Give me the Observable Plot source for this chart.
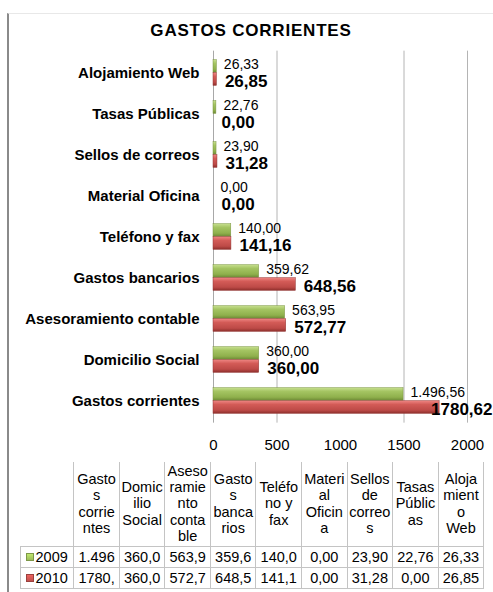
<!DOCTYPE html>
<html>
<head>
<meta charset="utf-8">
<script src="https://cdn.jsdelivr.net/npm/d3@7"></script>
<script src="https://cdn.jsdelivr.net/npm/@observablehq/plot@0.6"></script>
<style>
  html, body { margin: 0; padding: 0; background: #ffffff; }
  #wrap { position: relative; width: 493px; height: 592px; overflow: hidden; font-family: "Liberation Sans", Arial, sans-serif; color: #000; }
  #frame { position: absolute; left: 6.5px; top: 12.5px; width: 500px; height: 600px; border-left: 2px solid #8a8a8a; border-top: 1px solid #e8e8e8; }
  #title { position: absolute; left: 0; top: 22px; width: 502px; text-align: center; font-size: 17px; line-height: 17px; font-weight: bold; letter-spacing: 0.8px; }
  #chart { position: absolute; left: 0; top: 0; }
  #tbl { position: absolute; left: 19.5px; top: 461.5px; border-collapse: collapse; table-layout: fixed; }
  #tbl td { border: 1px solid #c4c4c4; padding: 0; text-align: center; vertical-align: middle; overflow: hidden; white-space: nowrap; }
  #tbl tr.head td { height: 84px; font-size: 14.5px; line-height: 16.3px; border-top: none; }
  #tbl tr.head td.corner { border: none; border-bottom: 1px solid #c4c4c4; }
  #tbl tr.val td { height: 20px; font-size: 14.5px; line-height: 20px; }
  .sq { display: inline-block; width: 6px; height: 6px; margin-right: 2px; vertical-align: 1px; }
</style>
</head>
<body>
<div id="wrap">
  <div id="frame"></div>
  <div id="chart"></div>
  <div id="title"></div>
  <table id="tbl"></table>
</div>
<script>
// ---- data (table order; chart shows it bottom-to-top) ----
const chartTitle = "GASTOS CORRIENTES";
const categories = ["Gastos corrientes", "Domicilio Social", "Asesoramiento contable", "Gastos bancarios", "Teléfono y fax", "Material Oficina", "Sellos de correos", "Tasas Públicas", "Alojamiento Web"];
const values2009 = [1496.56, 360.00, 563.95, 359.62, 140.00, 0.00, 23.90, 22.76, 26.33];
const values2010 = [1780.62, 360.00, 572.77, 648.56, 141.16, 0.00, 31.28, 0.00, 26.85];
const years = ["2009", "2010"];
const xTicks = [0, 500, 1000, 1500, 2000];
const gridValues = [500, 1500, 2000];
const headerLines = [
  ["Gasto", "s", "corrie", "ntes"],
  ["Domic", "ilio", "Social"],
  ["Aseso", "ramie", "nto", "conta", "ble"],
  ["Gasto", "s", "banca", "rios"],
  ["Teléfo", "no y", "fax"],
  ["Materi", "al", "Oficin", "a"],
  ["Sellos", "de", "correo", "s"],
  ["Tasas", "Públic", "as"],
  ["Aloja", "mient", "o", "Web"]
];

const colors = { "2009": "#9bbb59", "2010": "#c0504d" };

const loc = d3.formatLocale({ decimal: ",", thousands: ".", grouping: [3], currency: ["", "€"] });
const fmt2009 = loc.format(",.2f");
const fmt2010 = loc.format(".2f");

const d2009 = categories.map((c, i) => ({ cat: c, v: values2009[i], label: fmt2009(values2009[i]) }));
const d2010 = categories.map((c, i) => ({ cat: c, v: values2010[i], label: fmt2010(values2010[i]) }));
const fits = d => d.v < 1600;

document.getElementById("title").textContent = chartTitle;

const font = "Liberation Sans, Arial, sans-serif";
const chart = Plot.plot({
  width: 493,
  height: 455,
  marginLeft: 213,
  marginRight: 26,
  marginTop: 50.65,
  marginBottom: 32.35,
  style: { fontFamily: font, fontSize: "15px", color: "#000", background: "transparent", overflow: "visible" },
  x: { domain: [0, 2000], label: null },
  y: { domain: categories.slice().reverse(), padding: 0, label: null },
  marks: [
    Plot.ruleX(gridValues, { stroke: "#b4b4b4", strokeWidth: 1 }),
    Plot.ruleX([0], { stroke: "#a8a8a8", strokeWidth: 1 }),
    Plot.barX(d2009, { x: "v", y: "cat", fill: "url(#grad2009)", stroke: "#7a9440", strokeWidth: 0.5, insetTop: 7.65, insetBottom: 20.65 }),
    Plot.barX(d2010, { x: "v", y: "cat", fill: "url(#grad2010)", stroke: "#943634", strokeWidth: 0.5, insetTop: 20.65, insetBottom: 7.65 }),
    Plot.text(d2009, { x: "v", y: "cat", text: "label", dx: 7, dy: -8, textAnchor: "start", fontSize: 14, fill: "#000" }),
    Plot.text(d2010.filter(fits), { x: "v", y: "cat", text: "label", dx: 8, dy: 8.5, textAnchor: "start", fontSize: 17, fontWeight: "bold", fill: "#000" }),
    Plot.text(d2010.filter(d => !fits(d)), { frameAnchor: "right", y: "cat", text: "label", dx: 25, dy: 8.5, textAnchor: "end", fontSize: 17, fontWeight: "bold", fill: "#000" }),
    Plot.axisY({ tickSize: 0, tickPadding: 14, fontSize: 15, fontWeight: "bold", label: null }),
    Plot.axisX({ ticks: xTicks, tickFormat: d => String(d), tickSize: 0, tickPadding: 16, fontSize: 15, label: null })
  ]
});

chart.insertAdjacentHTML("afterbegin",
  `<defs>
    <linearGradient id="grad2009" x1="0" y1="0" x2="0" y2="1">
      <stop offset="0" stop-color="#c6df8e"/>
      <stop offset="0.3" stop-color="#a4c462"/>
      <stop offset="0.75" stop-color="#8fb04c"/>
      <stop offset="1" stop-color="#6e8a36"/>
    </linearGradient>
    <linearGradient id="grad2010" x1="0" y1="0" x2="0" y2="1">
      <stop offset="0" stop-color="#ee8582"/>
      <stop offset="0.3" stop-color="#d35b57"/>
      <stop offset="0.75" stop-color="#bd4a47"/>
      <stop offset="1" stop-color="#8e2f2c"/>
    </linearGradient>
  </defs>`);
document.getElementById("chart").appendChild(chart);

// ---- data table ----
const tbl = document.getElementById("tbl");
const colgroup = document.createElement("colgroup");
const c0 = document.createElement("col"); c0.style.width = "53.8px"; colgroup.appendChild(c0);
categories.forEach(() => { const c = document.createElement("col"); c.style.width = "45.56px"; colgroup.appendChild(c); });
tbl.appendChild(colgroup);

const head = document.createElement("tr"); head.className = "head";
const corner = document.createElement("td"); corner.className = "corner"; head.appendChild(corner);
headerLines.forEach(lines => {
  const td = document.createElement("td");
  lines.forEach((l, i) => { if (i) td.appendChild(document.createElement("br")); td.appendChild(document.createTextNode(l)); });
  head.appendChild(td);
});
tbl.appendChild(head);

[[years[0], d2009], [years[1], d2010]].forEach(([yr, rows]) => {
  const tr = document.createElement("tr"); tr.className = "val";
  const td0 = document.createElement("td");
  td0.style.textAlign = "left";
  td0.style.paddingLeft = "5px";
  const sq = document.createElement("span"); sq.className = "sq";
  sq.style.background = `linear-gradient(${d3.color(colors[yr]).brighter(0.6)}, ${colors[yr]})`;
  sq.style.border = `0.5px solid ${d3.color(colors[yr]).darker(0.6)}`;
  td0.appendChild(sq);
  td0.appendChild(document.createTextNode(yr));
  tr.appendChild(td0);
  rows.forEach(r => {
    const td = document.createElement("td");
    td.textContent = r.label.slice(0, 5);
    tr.appendChild(td);
  });
  tbl.appendChild(tr);
});
</script>
</body>
</html>
